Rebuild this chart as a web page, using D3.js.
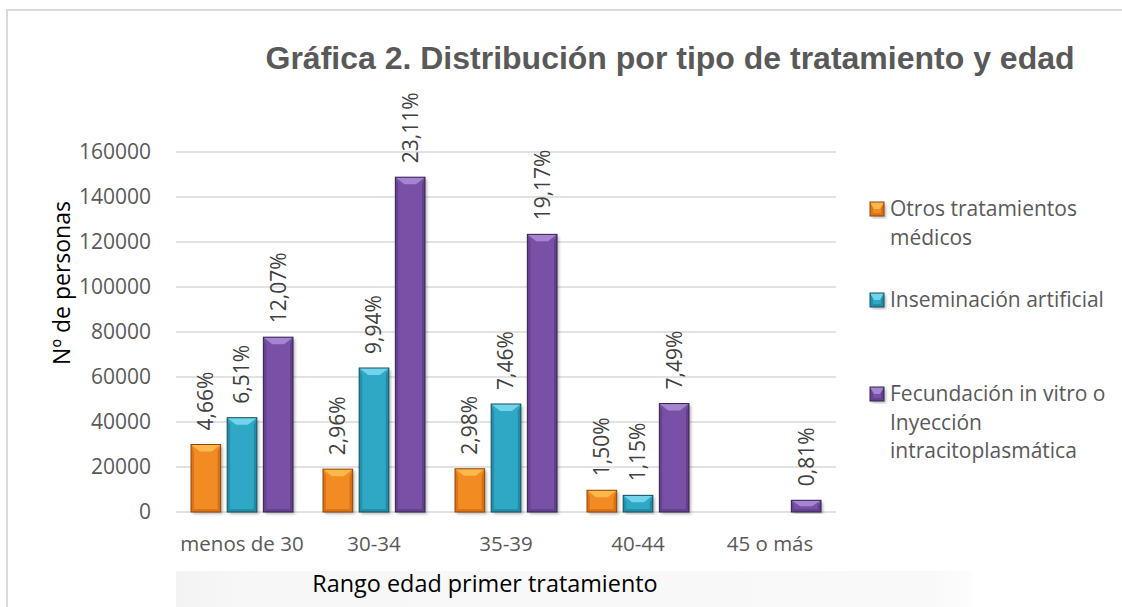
<!DOCTYPE html>
<html>
<head>
<meta charset="utf-8">
<script src="https://cdn.jsdelivr.net/npm/d3@7"></script>
<style>
  body { margin: 0; background: #fff; }
  svg { display: block; }
</style>
</head>
<body>
<div id="chart"></div>
<script>
'use strict';

// data
const categories = ["menos de 30", "30-34", "35-39", "40-44", "45 o más"];
const seriesNames = ["otros", "inseminacion", "fecundacion"];
const otros = [30000, 19050, 19200, 9660, 0];
const inseminacion = [41900, 64000, 48000, 7400, 0];
const fecundacion = [77700, 148800, 123400, 48200, 5200];
const otrosPct = ["4,66%", "2,96%", "2,98%", "1,50%", null];
const inseminacionPct = ["6,51%", "9,94%", "7,46%", "1,15%", null];
const fecundacionPct = ["12,07%", "23,11%", "19,17%", "7,49%", "0,81%"];
const yTicks = [0, 20000, 40000, 60000, 80000, 100000, 120000, 140000, 160000];
const legendLines = [
  ["Otros tratamientos", "médicos"],
  ["Inseminación artificial"],
  ["Fecundación in vitro o", "Inyección", "intracitoplasmática"]
];

const palette = {
  otros:        {base: "#f28b20", light: "#fdb84c", dark: "#c96510", stroke: "#8f4608"},
  inseminacion: {base: "#2fa8c5", light: "#72d4ea", dark: "#1e7d96", stroke: "#164f60"},
  fecundacion:  {base: "#7851a6", light: "#a784d2", dark: "#573880", stroke: "#35224f"}
};

let rows = categories.map((c, i) => ({
  cat: c,
  vals: [
    {key: "otros", v: otros[i], pct: otrosPct[i]},
    {key: "inseminacion", v: inseminacion[i], pct: inseminacionPct[i]},
    {key: "fecundacion", v: fecundacion[i], pct: fecundacionPct[i]}
  ]
}));

let width = 1122, height = 607;
let font = "'Open Sans', 'Noto Sans', sans-serif";

let svg = d3.select("#chart").append("svg")
    .attr("width", width)
    .attr("height", height);

let defs = svg.append("defs");
let shadow = defs.append("filter").attr("id", "shadow")
    .attr("x", "-20%").attr("y", "-5%").attr("width", "150%").attr("height", "120%");
shadow.append("feDropShadow")
    .attr("dx", 2).attr("dy", 2).attr("stdDeviation", 1.8)
    .attr("flood-color", "#000").attr("flood-opacity", 0.28);

// outer frame
svg.append("rect")
    .attr("x", 7).attr("y", 10)
    .attr("width", width + 20).attr("height", height + 20)
    .attr("fill", "none")
    .attr("stroke", "#d9d9d9")
    .attr("stroke-width", 2);

// faint box at the bottom
let boxGrad = defs.append("linearGradient").attr("id", "boxGrad")
    .attr("x1", "0").attr("x2", "1").attr("y1", "0").attr("y2", "0");
boxGrad.append("stop").attr("offset", "0").attr("stop-color", "#f3f3f3");
boxGrad.append("stop").attr("offset", "0.08").attr("stop-color", "#f7f7f7");
boxGrad.append("stop").attr("offset", "0.95").attr("stop-color", "#f9f9f9");
boxGrad.append("stop").attr("offset", "1").attr("stop-color", "#fdfdfd");
svg.append("rect")
    .attr("x", 176).attr("y", 571)
    .attr("width", 796).attr("height", 40)
    .attr("fill", "url(#boxGrad)");

let plot = {left: 176, right: 836, top: 152, bottom: 512};

let x0 = d3.scaleBand()
    .domain(categories)
    .range([plot.left, plot.right]);

let x1 = d3.scaleBand()
    .domain(seriesNames)
    .range([15, x0.bandwidth() - 15])
    .paddingInner(0.18);

let y = d3.scaleLinear()
    .domain([0, 160000])
    .range([plot.bottom, plot.top]);

// gridlines
svg.append("g")
    .selectAll("line")
    .data(yTicks)
    .join("line")
    .attr("x1", plot.left)
    .attr("x2", plot.right)
    .attr("y1", d => y(d))
    .attr("y2", d => y(d))
    .attr("stroke", "#d9d9d9")
    .attr("stroke-width", 1.5);

// y axis labels
let yAxis = svg.append("g")
    .attr("transform", "translate(" + plot.left + ",0)")
    .call(d3.axisLeft(y).tickValues(yTicks).tickSize(0).tickPadding(25).tickFormat(d3.format("d")));
yAxis.select(".domain").remove();
yAxis.selectAll("text")
    .attr("font-family", font)
    .attr("font-size", 21)
    .attr("fill", "#595959");

// x axis labels
let xAxis = svg.append("g")
    .attr("transform", "translate(0," + plot.bottom + ")")
    .call(d3.axisBottom(x0).tickSize(0).tickPadding(24));
xAxis.select(".domain").remove();
xAxis.selectAll("text")
    .attr("font-family", font)
    .attr("font-size", 20.5)
    .attr("fill", "#595959");

// bevelled bar
function bevelBar(g, bx, by, bw, bh, c) {
  if (bh <= 0) return;
  let bv = Math.min(7, bh / 2), sv = Math.min(3, bw / 4);
  g.append("rect")
      .attr("x", bx).attr("y", by)
      .attr("width", bw).attr("height", bh)
      .attr("fill", c.base)
      .attr("filter", "url(#shadow)");
  // left / right sides
  g.append("polygon")
      .attr("points", [[bx, by], [bx + sv, by + bv], [bx + sv, by + bh - sv], [bx, by + bh]].join(" "))
      .attr("fill", c.dark).attr("opacity", 0.55);
  g.append("polygon")
      .attr("points", [[bx + bw, by], [bx + bw - sv, by + bv], [bx + bw - sv, by + bh - sv], [bx + bw, by + bh]].join(" "))
      .attr("fill", c.dark).attr("opacity", 0.7);
  // bottom
  g.append("polygon")
      .attr("points", [[bx, by + bh], [bx + sv, by + bh - sv], [bx + bw - sv, by + bh - sv], [bx + bw, by + bh]].join(" "))
      .attr("fill", c.dark).attr("opacity", 0.6);
  // top
  g.append("polygon")
      .attr("points", [[bx, by], [bx + bw, by], [bx + bw - bw * 0.3, by + bv], [bx + bw * 0.3, by + bv]].join(" "))
      .attr("fill", c.light);
  g.append("rect")
      .attr("x", bx).attr("y", by)
      .attr("width", bw).attr("height", bh)
      .attr("fill", "none")
      .attr("stroke", c.stroke)
      .attr("stroke-width", 1);
}

let groups = svg.append("g")
    .selectAll("g")
    .data(rows)
    .join("g")
    .attr("transform", d => "translate(" + x0(d.cat) + ",0)");

groups.each(function(d) {
  let g = d3.select(this);
  d.vals.forEach(v => {
    bevelBar(g, x1(v.key), y(v.v), x1.bandwidth(), y(0) - y(v.v), palette[v.key]);
  });
});

// data labels
groups.selectAll("text.pct")
    .data(d => d.vals.filter(v => v.pct))
    .join("text")
    .attr("class", "pct")
    .attr("transform", v => "translate(" + (x1(v.key) + x1.bandwidth() / 2) + "," + (y(v.v) - 14) + ")rotate(-90)")
    .attr("dy", "0.35em")
    .attr("text-anchor", "start")
    .attr("font-family", font)
    .attr("font-size", 21)
    .attr("fill", "#404040")
    .text(v => v.pct);

// title
svg.append("text")
    .attr("x", 670)
    .attr("y", 69)
    .attr("text-anchor", "middle")
    .attr("font-family", "'Liberation Sans', Arial, sans-serif")
    .attr("font-weight", "bold")
    .attr("font-size", 32)
    .attr("fill", "#595959")
    .text("Gráfica 2. Distribución por tipo de tratamiento y edad");

// axis titles
svg.append("text")
    .attr("transform", "translate(70,283)rotate(-90)")
    .attr("text-anchor", "middle")
    .attr("font-family", font)
    .attr("font-size", 23)
    .attr("fill", "#000")
    .text("Nº de personas");

svg.append("text")
    .attr("x", 485)
    .attr("y", 592)
    .attr("text-anchor", "middle")
    .attr("font-family", font)
    .attr("font-size", 23.4)
    .attr("fill", "#000")
    .text("Rango edad primer tratamiento");

// legend
let legendTop = [216, 307, 401];
let legend = svg.append("g");
seriesNames.forEach((key, i) => {
  let g = legend.append("g");
  bevelBar(g, 870, legendTop[i] - 14, 14, 14, palette[key]);
  g.append("text")
      .attr("x", 890)
      .attr("y", legendTop[i])
      .attr("font-family", font)
      .attr("font-size", 21)
      .attr("fill", "#595959")
      .selectAll("tspan")
      .data(legendLines[i])
      .join("tspan")
      .attr("x", 890)
      .attr("dy", (l, j) => j === 0 ? 0 : 28.5)
      .text(l => l);
});
</script>
</body>
</html>
